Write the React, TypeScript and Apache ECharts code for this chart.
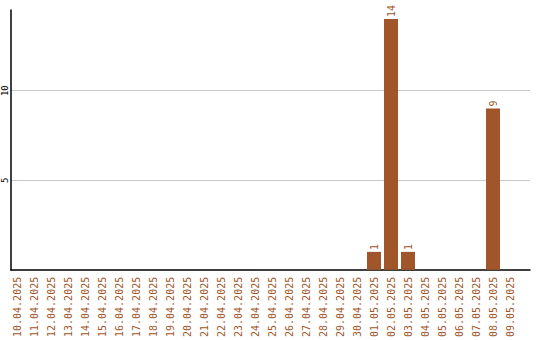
import React, { useEffect, useRef } from "react";
import * as echarts from "echarts";

const dates: string[] = [
  "10.04.2025", "11.04.2025", "12.04.2025", "13.04.2025", "14.04.2025",
  "15.04.2025", "16.04.2025", "17.04.2025", "18.04.2025", "19.04.2025",
  "20.04.2025", "21.04.2025", "22.04.2025", "23.04.2025", "24.04.2025",
  "25.04.2025", "26.04.2025", "27.04.2025", "28.04.2025", "29.04.2025",
  "30.04.2025", "01.05.2025", "02.05.2025", "03.05.2025", "04.05.2025",
  "05.05.2025", "06.05.2025", "07.05.2025", "08.05.2025", "09.05.2025",
];

const counts: number[] = [
  0, 0, 0, 0, 0, 0, 0, 0, 0, 0,
  0, 0, 0, 0, 0, 0, 0, 0, 0, 0,
  0, 1, 14, 1, 0, 0, 0, 0, 9, 0,
];

const yTicks: number[] = [5, 10];

const BROWN = "#a0562a";
const MONO = "'DejaVu Sans Mono', monospace";
const Y_MAX = 14.5;

export default function App() {
  const ref = useRef<HTMLDivElement>(null);

  useEffect(() => {
    if (!ref.current) return;
    const chart = echarts.init(ref.current, undefined, { renderer: "svg" });
    chart.setOption({
      animation: false,
      backgroundColor: "#ffffff",
      grid: [
        { left: 11, top: 10, width: 519, height: 260 },
        { left: 8.5, top: 10, width: 510, height: 260 },
      ],
      xAxis: [
        {
          gridIndex: 0,
          type: "value",
          min: 0,
          max: 1,
          axisLine: { show: true, lineStyle: { color: "#000", width: 1.5 } },
          axisTick: { show: false },
          axisLabel: { show: false },
          splitLine: { show: false },
        },
        {
          gridIndex: 1,
          type: "category",
          data: dates,
          axisLine: { show: false },
          axisTick: { show: false },
          axisLabel: {
            interval: 0,
            rotate: 90,
            margin: 7,
            color: BROWN,
            fontFamily: MONO,
            fontSize: 10,
          },
        },
      ],
      yAxis: [
        {
          gridIndex: 0,
          type: "value",
          min: 0,
          max: Y_MAX,
          interval: 5,
          axisLine: { show: true, lineStyle: { color: "#000", width: 1.5 } },
          axisTick: { show: false },
          axisLabel: {
            rotate: 90,
            margin: 2,
            color: "#000",
            fontFamily: MONO,
            fontSize: 9,
            formatter: (v: number) => (yTicks.includes(v) ? String(v) : ""),
          },
          splitLine: {
            show: true,
            showMinLine: false,
            showMaxLine: false,
            lineStyle: { color: "#c8c8c8", width: 1 },
          },
        },
        {
          gridIndex: 1,
          type: "value",
          min: 0,
          max: Y_MAX,
          show: false,
        },
      ],
      series: [
        {
          type: "bar",
          xAxisIndex: 1,
          yAxisIndex: 1,
          data: counts,
          barWidth: 14,
          itemStyle: { color: BROWN },
          label: {
            show: true,
            position: "top",
            rotate: 90,
            align: "left",
            verticalAlign: "middle",
            distance: 2,
            color: BROWN,
            fontFamily: MONO,
            fontSize: 10,
            formatter: (p: any) => (p.value > 0 ? String(p.value) : ""),
          },
        },
      ],
    });
    return () => chart.dispose();
  }, []);

  return (
    <div
      ref={ref}
      style={{ position: "fixed", left: 0, top: 0, width: 540, height: 340 }}
    />
  );
}
